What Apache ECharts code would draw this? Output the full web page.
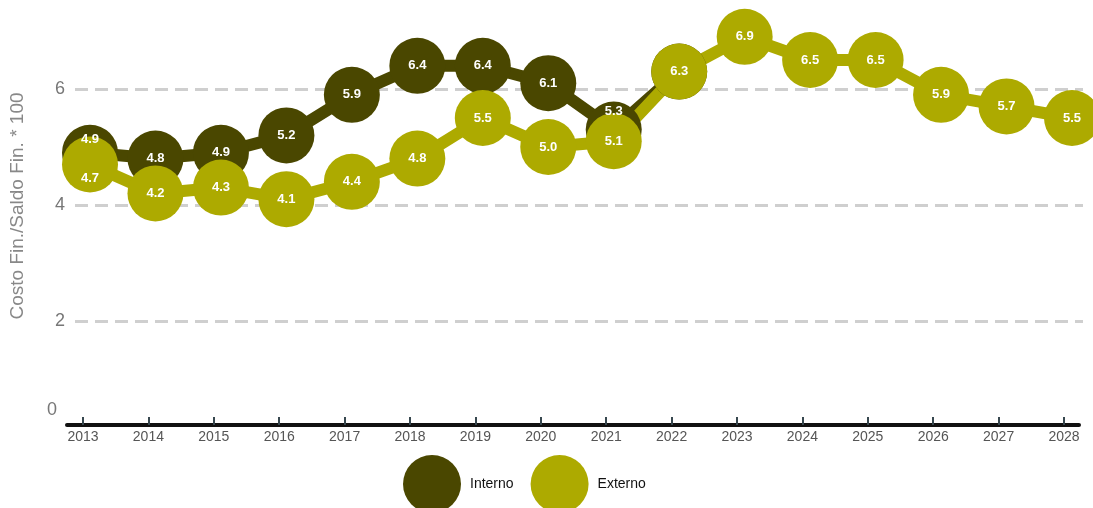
<!DOCTYPE html>
<html>
<head>
<meta charset="utf-8">
<script src="https://cdn.jsdelivr.net/npm/echarts@6/dist/echarts.min.js"></script>
<style>
  html, body { margin: 0; padding: 0; background: #fff; }
  #chart { width: 1093px; height: 508px; }
</style>
</head>
<body>
<div id="chart"></div>
<script>
// Financial cost over financial balance (x100), internal vs external debt
const years = ['2013', '2014', '2015', '2016', '2017', '2018', '2019', '2020',
               '2021', '2022', '2023', '2024', '2025', '2026', '2027', '2028'];
const interno = [4.9, 4.8, 4.9, 5.2, 5.9, 6.4, 6.4, 6.1, 5.3, 6.3,
                 null, null, null, null, null, null];
const externo = [4.7, 4.2, 4.3, 4.1, 4.4, 4.8, 5.5, 5.0, 5.1, 6.3,
                 6.9, 6.5, 6.5, 5.9, 5.7, 5.5];
const yTicks = [0, 2, 4, 6];

const COLOR_INT = '#4a4700';
const COLOR_EXT = '#adaa00';
const FONT = '"Liberation Sans", Arial, Helvetica, sans-serif';

// vertical label shifts where neighbouring bubbles collide
const labelShift = {
  Interno: { 0: -13, 8: -18 },
  Externo: { 0: 14 }
};

function buildData(name, values) {
  return values.map((v, i) => {
    const dy = labelShift[name][i];
    return dy ? { value: v, label: { offset: [0, dy] } } : v;
  });
}

function bubbleSeries(name, values, color, hideCommon) {
  return {
    name,
    type: 'line',
    xAxisIndex: 1,
    yAxisIndex: 1,
    data: buildData(name, values),
    symbol: 'circle',
    symbolSize: 56,
    clip: false,
    connectNulls: false,
    lineStyle: { width: 12, color },
    itemStyle: { color, borderWidth: 0 },
    emphasis: { disabled: true },
    label: {
      show: true,
      position: 'inside',
      color: '#ffffff',
      fontFamily: FONT,
      fontWeight: 'bold',
      fontSize: 13,
      formatter: p => {
        if (p.value == null) return '';
        if (hideCommon && p.value === externo[p.dataIndex]) return '';
        return Number(p.value).toFixed(1);
      }
    }
  };
}

const chart = echarts.init(document.getElementById('chart'), null, { renderer: 'canvas' });

const yMin = 0, yMax = 7;

chart.setOption({
  animation: false,
  backgroundColor: '#ffffff',
  textStyle: { fontFamily: FONT },
  grid: [
    { left: 75, right: 10, top: 31, bottom: 71 },   // gridlines + value axis
    { left: 90, right: 21, top: 31, bottom: 71 },   // data
    { left: 83, right: 29, top: 31, bottom: 83 },   // year ticks + labels
    { left: 67, right: 14, top: 31, bottom: 83 }    // baseline
  ],
  xAxis: [
    { gridIndex: 0, type: 'category', data: years, boundaryGap: false, show: false },
    { gridIndex: 1, type: 'category', data: years, boundaryGap: false, show: false },
    {
      gridIndex: 2, type: 'category', data: years, boundaryGap: false,
      axisLine: { show: false },
      axisTick: { show: true, inside: true, length: 8, lineStyle: { color: '#37474f', width: 2 } },
      axisLabel: { color: '#555', fontSize: 14, margin: 5, interval: 0, fontFamily: FONT },
      splitLine: { show: false }
    },
    {
      gridIndex: 3, type: 'category', data: years, boundaryGap: false,
      axisLine: { show: true, lineStyle: { color: '#111', width: 4 } },
      axisTick: { show: false },
      axisLabel: { show: false },
      splitLine: { show: false }
    }
  ],
  yAxis: [
    {
      gridIndex: 0, type: 'value', min: yMin, max: yMax, interval: 2,
      name: 'Costo Fin./Saldo Fin. * 100',
      nameLocation: 'middle',
      nameGap: 48,
      nameTextStyle: { color: '#888', fontSize: 19, fontFamily: FONT, padding: [0, 0, 0, 56] },
      axisLine: { show: false },
      axisTick: { show: false },
      axisLabel: {
        color: '#777', fontSize: 18, margin: 10, fontFamily: FONT,
        formatter: v => (yTicks.indexOf(v) < 0 ? '' : (v === 0 ? '{z|0}' : String(v))),
        rich: { z: { color: '#777', fontSize: 18, fontFamily: FONT, padding: [0, 8, 54, 0] } }
      },
      splitLine: {
        show: true,
        showMinLine: false,
        showMaxLine: false,
        lineStyle: { color: '#cfcfcf', width: 3, type: [13, 7] }
      }
    },
    { gridIndex: 1, type: 'value', min: yMin, max: yMax, show: false },
    { gridIndex: 2, type: 'value', min: yMin, max: yMax, show: false },
    { gridIndex: 3, type: 'value', min: yMin, max: yMax, show: false }
  ],
  legend: {
    data: ['Interno', 'Externo'],
    icon: 'circle',
    itemWidth: 58,
    itemHeight: 58,
    itemGap: 17,
    left: 403,
    top: 455,
    padding: 0,
    selectedMode: false,
    textStyle: { color: '#111', fontSize: 14, fontFamily: FONT, padding: [0, 0, 0, 4] }
  },
  series: [
    bubbleSeries('Interno', interno, COLOR_INT, true),
    bubbleSeries('Externo', externo, COLOR_EXT, false)
  ]
});
</script>
</body>
</html>
